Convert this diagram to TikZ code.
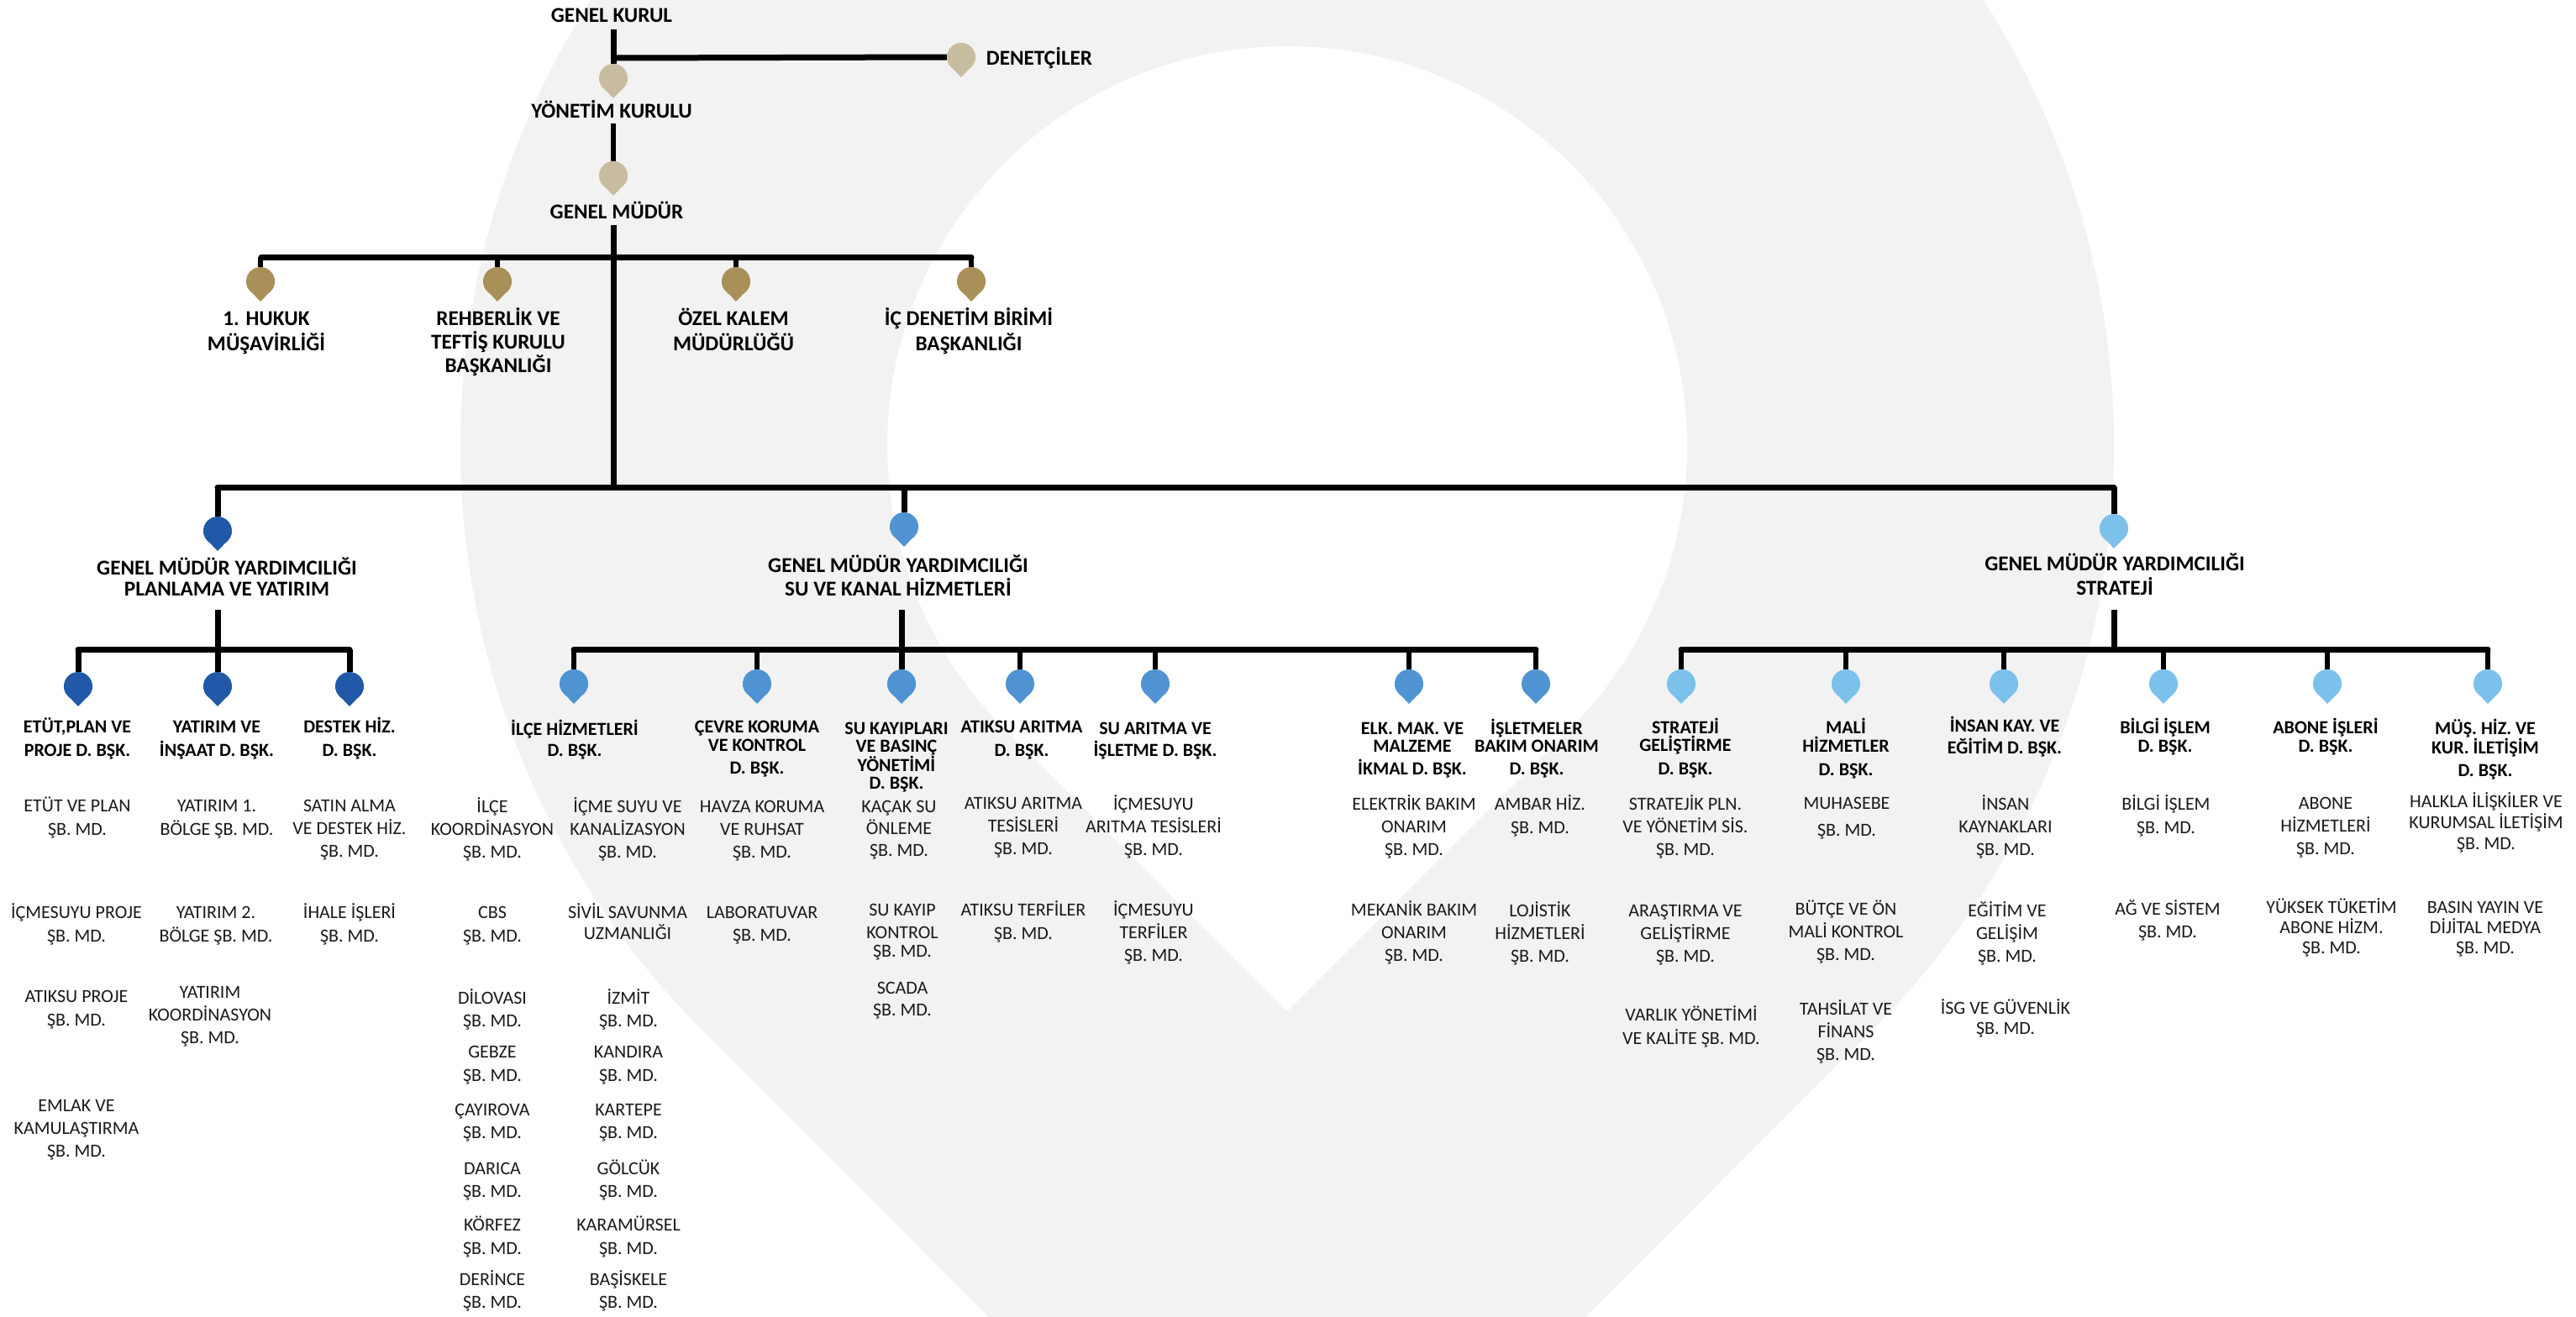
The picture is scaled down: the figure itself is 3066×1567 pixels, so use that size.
\documentclass[tikz,border=0pt]{standalone}
\usepackage{fontspec}
\setmainfont{Carlito}
\definecolor{bggrey}{HTML}{F2F2F2}
\definecolor{beige}{HTML}{C8BCA0}
\definecolor{gold}{HTML}{A98F58}
\definecolor{navy}{HTML}{2159A8}
\definecolor{midblue}{HTML}{4F93D2}
\definecolor{skyblue}{HTML}{7CC0EC}
\definecolor{ink}{HTML}{1A1A1A}
\tikzset{
  conn/.style={line width=7pt,black},
  conthin/.style={line width=6pt,black},
  pinhead/.style={circle,inner sep=0pt,minimum size=34pt,draw=none},
  basetxt/.style={anchor=north,inner sep=0pt,outer sep=0pt,align=center},
}
% block of text: colour, name, x, y of the first line's middle, line step, font size, series, text
\newcommand\tbk[8]{\node[basetxt,text=#1,font=\fontsize{#6}{#5}\selectfont#7] (#2) at (#3,#4-16.5)
  {\rule{0pt}{24pt}#8};}
\newcommand\topt[5]{\tbk{black}{#1}{#2}{#3+1}{#4}{25.2}{\bfseries}{#5}}
\newcommand\head[5]{\tbk{black}{#1}{#2}{#3+1}{#4}{22}{\bfseries}{#5}}
\newcommand\body[5]{\tbk{ink}{#1}{#2}{#3-1}{#4}{22}{}{#5}}
% pin: name, x, y of top, colour
\newcommand\pinmark[4]{%
  \fill[#4] (#2-17,#3+17) .. controls (#2-17,#3+26) and (#2-6,#3+34) .. (#2,#3+41)
     .. controls (#2+6,#3+34) and (#2+17,#3+26) .. (#2+17,#3+17) -- cycle;
  \node[pinhead,fill=#4] (#1) at (#2,#3+17) {};}
\begin{document}
\begin{tikzpicture}[x=1pt,y=-1pt]
\useasboundingbox (0,0) rectangle (3066,1567);
\fill[white] (0,0) rectangle (3066,1567);
\begin{scope}
\clip (0,0) rectangle (3066,1567);
\fill[bggrey] (1532,1923) -- (2227.8,1226.8) arc[start angle=45,end angle=-225,radius=984] -- cycle;
\fill[white] (1532,1204.2) -- (1868.6,867.6) arc[start angle=45,end angle=-225,radius=476] -- cycle;
\end{scope}

% ---- connector start points and buses
\coordinate (gkout) at (730,35);
\coordinate (dnbranch) at (730,69);
\coordinate (ykout) at (730,147);
\coordinate (gmout) at (730,268);
\coordinate (busA) at (311,306);
\coordinate (busAend) at (1156,306);
\coordinate (busB) at (259,580);
\coordinate (busBend) at (2516,580);
\coordinate (yout1) at (259,726);
\coordinate (yout2) at (1073,726);
\coordinate (yout3) at (2516,726);
\coordinate (busC) at (93,773);
\coordinate (busCend) at (416,773);
\coordinate (busD) at (683,773);
\coordinate (busDend) at (1828,773);
\coordinate (busE) at (2001,773);
\coordinate (busEend) at (2961,773);

% ---- pins
\pinmark{pDN}{1144}{51}{beige}
\pinmark{pYK}{730}{76}{beige}
\pinmark{pGM}{730}{192}{beige}
\pinmark{pHK}{310}{318}{gold}
\pinmark{pRT}{592}{318}{gold}
\pinmark{pOK}{876}{318}{gold}
\pinmark{pID}{1156}{318}{gold}
\pinmark{pY1}{259}{615}{navy}
\pinmark{pY2}{1076}{610}{midblue}
\pinmark{pY3}{2516}{612}{skyblue}
\pinmark{pA1}{93}{800}{navy}
\pinmark{pA2}{259}{800}{navy}
\pinmark{pA3}{416}{800}{navy}
\pinmark{pB1}{683}{797}{midblue}
\pinmark{pB2}{901}{797}{midblue}
\pinmark{pB3}{1073}{797}{midblue}
\pinmark{pB4}{1214}{797}{midblue}
\pinmark{pB5}{1375}{797}{midblue}
\pinmark{pB6}{1677}{797}{midblue}
\pinmark{pB7}{1828}{797}{midblue}
\pinmark{pC1}{2001}{797}{skyblue}
\pinmark{pC2}{2197}{797}{skyblue}
\pinmark{pC3}{2385}{797}{skyblue}
\pinmark{pC4}{2575}{797}{skyblue}
\pinmark{pC5}{2770}{797}{skyblue}
\pinmark{pC6}{2961}{797}{skyblue}

% ---- lines
\draw[conn] (gkout) -- (pYK.north);
\draw[conn] (dnbranch) -- (pDN.west);
\draw[conthin] (ykout) -- (pGM.north);
\draw[conn] (gmout) -- (730,580);
\draw[conn,line cap=round] (busA) -- (busAend);
\draw[conn,line cap=round] (busB) -- (busBend);
\draw[conn] (yout1) -- (pA2.north);
\draw[conn] (yout2) -- (pB3.north);
\draw[conn] (yout3) -- (2516,773);
\draw[conn,line cap=round] (busC) -- (busCend);
\draw[conn,line cap=round] (busD) -- (busDend);
\draw[conn,line cap=round] (busE) -- (busEend);
\foreach \p in {pHK,pRT,pOK,pID} \draw[conthin] (\p.north |- busA) -- (\p.north);
\foreach \p in {pY1,pY2,pY3} \draw[conn] (\p.north |- busB) -- (\p.north);
\foreach \p in {pA1,pA3} \draw[conn] (\p.north |- busC) -- (\p.north);
\foreach \p in {pB1,pB2,pB4,pB5,pB6,pB7} \draw[conthin] (\p.north |- busD) -- (\p.north);
\foreach \p in {pC1,pC2,pC3,pC4,pC5,pC6} \draw[conthin] (\p.north |- busE) -- (\p.north);

% ---- top labels
\topt{tGK}{728}{18}{27}{GENEL KURUL}
\topt{tDN}{1237}{69}{27}{DENETÇİLER}
\topt{tYK}{728}{132}{27}{YÖNETİM KURULU}
\topt{tGM}{734}{252}{27}{GENEL MÜDÜR}
\topt{tHK}{317}{379}{30}{1. HUKUK\\MÜŞAVİRLİĞİ}
\topt{tRT}{593}{379}{28}{REHBERLİK VE\\TEFTİŞ KURULU\\BAŞKANLIĞI}
\topt{tOK}{873}{379}{30}{ÖZEL KALEM\\MÜDÜRLÜĞÜ}
\topt{tID}{1153}{379}{30}{İÇ DENETİM BİRİMİ\\BAŞKANLIĞI}
\topt{tY1}{270}{676}{25}{GENEL MÜDÜR YARDIMCILIĞI\\PLANLAMA VE YATIRIM}
\topt{tY2}{1069}{673}{28}{GENEL MÜDÜR YARDIMCILIĞI\\SU VE KANAL HİZMETLERİ}
\topt{tY3}{2517}{671}{29}{GENEL MÜDÜR YARDIMCILIĞI\\STRATEJİ}

% ---- department heads
\head{hA1}{92}{864}{28}{ETÜT,PLAN VE\\PROJE D. BŞK.}
\head{hA2}{258}{864}{28}{YATIRIM VE\\İNŞAAT D. BŞK.}
\head{hA3}{416}{864}{28}{DESTEK HİZ.\\D. BŞK.}
\head{hB1}{684}{867}{25}{İLÇE HİZMETLERİ\\D. BŞK.}
\head{hB2}{901}{864}{22}{ÇEVRE KORUMA\\VE KONTROL\\[5pt]D. BŞK.}
\head{hB3}{1067}{866}{21}{SU KAYIPLARI\\VE BASINÇ\\YÖNETİMİ\\D. BŞK.}
\head{hB4}{1216}{864}{28}{ATIKSU ARITMA\\D. BŞK.}
\head{hB5}{1375}{866}{26}{SU ARITMA VE\\İŞLETME D. BŞK.}
\head{hB6}{1681}{866}{21}{ELK. MAK. VE\\MALZEME\\[6pt]İKMAL D. BŞK.}
\head{hB7}{1829}{866}{21}{İŞLETMELER\\BAKIM ONARIM\\[6pt]D. BŞK.}
\head{hC1}{2006}{865}{21}{STRATEJİ\\GELİŞTİRME\\[7pt]D. BŞK.}
\head{hC2}{2197}{865}{22}{MALİ\\HİZMETLER\\[6pt]D. BŞK.}
\head{hC3}{2386}{863}{26}{İNSAN KAY. VE\\EĞİTİM D. BŞK.}
\head{hC4}{2577}{865}{22}{BİLGİ İŞLEM\\D. BŞK.}
\head{hC5}{2768}{865}{22}{ABONE İŞLERİ\\D. BŞK.}
\head{hC6}{2958}{866}{21}{MÜŞ. HİZ. VE\\KUR. İLETİŞİM\\[6pt]D. BŞK.}

% ---- offices: first group
\body{a11}{92}{960}{28}{ETÜT VE PLAN\\ŞB. MD.}
\body{a12}{91}{1087}{28}{İÇMESUYU PROJE\\ŞB. MD.}
\body{a13}{91}{1187}{28}{ATIKSU PROJE\\ŞB. MD.}
\body{a14}{91}{1317}{27}{EMLAK VE\\KAMULAŞTIRMA\\ŞB. MD.}
\body{a21}{258}{960}{28}{YATIRIM 1.\\BÖLGE ŞB. MD.}
\body{a22}{257}{1087}{28}{YATIRIM 2.\\BÖLGE ŞB. MD.}
\body{a23}{250}{1182}{27}{YATIRIM\\KOORDİNASYON\\ŞB. MD.}
\body{a31}{416}{960}{27}{SATIN ALMA\\VE DESTEK HİZ.\\ŞB. MD.}
\body{a32}{416}{1087}{28}{İHALE İŞLERİ\\ŞB. MD.}

% ---- district offices
\body{b11}{586}{961}{27}{İLÇE\\KOORDİNASYON\\ŞB. MD.}
\body{b12}{586}{1087}{28}{CBS\\ŞB. MD.}
\body{b13}{586}{1189}{27}{DİLOVASI\\ŞB. MD.}
\body{b14}{586}{1253}{28}{GEBZE\\ŞB. MD.}
\body{b15}{586}{1322}{27}{ÇAYIROVA\\ŞB. MD.}
\body{b16}{586}{1392}{27}{DARICA\\ŞB. MD.}
\body{b17}{586}{1459}{28}{KÖRFEZ\\ŞB. MD.}
\body{b18}{586}{1524}{27}{DERİNCE\\ŞB. MD.}
\body{c11}{747}{961}{27}{İÇME SUYU VE\\KANALİZASYON\\ŞB. MD.}
\body{c12}{747}{1087}{25}{SİVİL SAVUNMA\\UZMANLIĞI}
\body{c13}{748}{1189}{27}{İZMİT\\ŞB. MD.}
\body{c14}{748}{1253}{28}{KANDIRA\\ŞB. MD.}
\body{c15}{748}{1322}{27}{KARTEPE\\ŞB. MD.}
\body{c16}{748}{1392}{27}{GÖLCÜK\\ŞB. MD.}
\body{c17}{748}{1459}{28}{KARAMÜRSEL\\ŞB. MD.}
\body{c18}{748}{1524}{27}{BAŞİSKELE\\ŞB. MD.}

% ---- water and sewer
\body{d21}{907}{961}{27}{HAVZA KORUMA\\VE RUHSAT\\ŞB. MD.}
\body{d22}{907}{1087}{27}{LABORATUVAR\\ŞB. MD.}
\body{d31}{1070}{961}{26}{KAÇAK SU\\ÖNLEME\\ŞB. MD.}
\body{d32}{1074}{1084}{27}{SU KAYIP\\KONTROL\\[-5pt]ŞB. MD.}
\body{d33}{1074}{1177}{26}{SCADA\\ŞB. MD.}
\body{d41}{1218}{957}{27}{ATIKSU ARITMA\\TESİSLERİ\\ŞB. MD.}
\body{d42}{1218}{1084}{28}{ATIKSU TERFİLER\\ŞB. MD.}
\body{d51}{1373}{958}{27}{İÇMESUYU\\ARITMA TESİSLERİ\\ŞB. MD.}
\body{d52}{1373}{1084}{27}{İÇMESUYU\\TERFİLER\\ŞB. MD.}
\body{d61}{1683}{958}{27}{ELEKTRİK BAKIM\\ONARIM\\ŞB. MD.}
\body{d62}{1683}{1084}{27}{MEKANİK BAKIM\\ONARIM\\ŞB. MD.}
\body{d71}{1833}{958}{28}{AMBAR HİZ.\\ŞB. MD.}
\body{d72}{1833}{1085}{27}{LOJİSTİK\\HİZMETLERİ\\ŞB. MD.}

% ---- strategy
\body{e11}{2006}{958}{27}{STRATEJİK PLN.\\VE YÖNETİM SİS.\\ŞB. MD.}
\body{e12}{2006}{1085}{27}{ARAŞTIRMA VE\\GELİŞTİRME\\ŞB. MD.}
\body{e13}{2013}{1209}{28}{VARLIK YÖNETİMİ\\VE KALİTE ŞB. MD.}
\body{e21}{2198}{957}{32}{MUHASEBE\\ŞB. MD.}
\body{e22}{2197}{1083}{27}{BÜTÇE VE ÖN\\MALİ KONTROL\\ŞB. MD.}
\body{e23}{2197}{1202}{27}{TAHSİLAT VE\\FİNANS\\ŞB. MD.}
\body{e31}{2387}{958}{27}{İNSAN\\KAYNAKLARI\\ŞB. MD.}
\body{e32}{2389}{1085}{27}{EĞİTİM VE\\GELİŞİM\\ŞB. MD.}
\body{e33}{2387}{1201}{24}{İSG VE GÜVENLİK\\ŞB. MD.}
\body{e41}{2578}{958}{28}{BİLGİ İŞLEM\\ŞB. MD.}
\body{e42}{2580}{1083}{27}{AĞ VE SİSTEM\\ŞB. MD.}
\body{e51}{2768}{957}{27}{ABONE\\HİZMETLERİ\\ŞB. MD.}
\body{e52}{2775}{1081}{24}{YÜKSEK TÜKETİM\\ABONE HİZM.\\ŞB. MD.}
\body{e61}{2959}{955}{25}{HALKLA İLİŞKİLER VE\\KURUMSAL İLETİŞİM\\ŞB. MD.}
\body{e62}{2958}{1081}{24}{BASIN YAYIN VE\\DİJİTAL MEDYA\\ŞB. MD.}
\end{tikzpicture}
\end{document}
